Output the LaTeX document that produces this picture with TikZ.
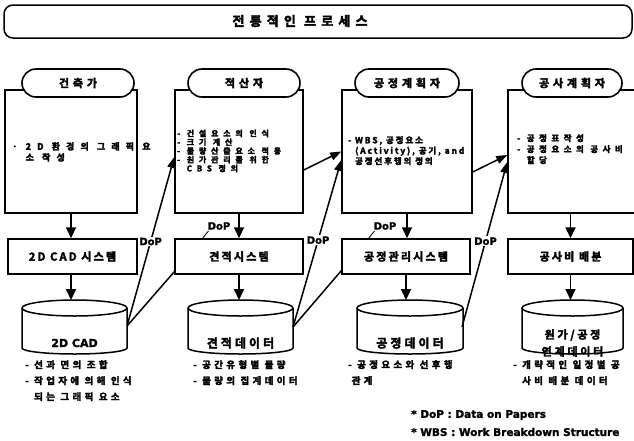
\documentclass[tikz,border=0pt]{standalone}
\usepackage{fontspec}
\usetikzlibrary{arrows.meta,calc}
\newfontfamily\kr[LetterSpace=25, FakeBold=3]{Noto Sans CJK KR Bold}
\newfontfamily\lat[FakeBold=1.5]{DejaVu Sans Bold}
\newcommand\dbcyl[3]{%
  \pgfmathsetmacro\cylrx{(#2-#1)/2}%
  \draw[line width=1.5pt, fill=white] (#1,308) -- (#1,348) arc[start angle=180,end angle=360,x radius=\cylrx pt,y radius=6pt] -- (#2,308);
  \draw[line width=1.5pt] ({(#1+#2)/2},308) ellipse[x radius=\cylrx pt, y radius=8pt];
  \coordinate (#3t) at ({(#1+#2)/2},300);
}
\begin{document}
\begin{tikzpicture}[x=1pt,y=-1pt,
  frame/.style={draw, line width=1.5pt, inner sep=0pt},
  pill/.style={draw, fill=white, line width=1.6pt, rounded corners=14pt, minimum height=28pt, inner sep=0pt,
     font=\kr\fontsize{11}{11}\selectfont\addfontfeature{LetterSpace=35}},
  sysbox/.style={frame, minimum height=35pt, font=\kr\fontsize{11}{11}\selectfont\addfontfeature{LetterSpace=20}},
  arr/.style={line width=1.8pt, -{Triangle[length=11pt,width=10pt]}},
  darr/.style={line width=1.5pt, -{Triangle[length=11pt,width=8pt]}},
  dline/.style={line width=1.5pt},
  txt/.style={anchor=north west, align=left, inner sep=0pt},
  dop/.style={fill=white, inner sep=1pt, font=\lat\fontsize{10}{10}\selectfont},
  cyltxt/.style={font=\kr\fontsize{12}{16}\selectfont, align=center, inner sep=0pt},
  note/.style={txt, font=\kr\fontsize{9.5}{16}\selectfont\addfontfeature{LetterSpace=35}},
]
\useasboundingbox (0,0) rectangle (634,440);
\fill[white] (0,0) rectangle (634,440);

% banner
\node[frame, rounded corners=9pt, minimum width=628pt, minimum height=33pt] (banner) at (318,21.5) {};
\node[font=\kr\fontsize{13}{13}\selectfont\addfontfeature{LetterSpace=40}] (title) at (300,21) {전통적인 프로세스};

% role boxes
\node[frame, minimum width=132pt, minimum height=123pt] (B1) at (71,151.5) {};
\node[frame, minimum width=128pt, minimum height=123pt] (B2) at (239,151.5) {};
\node[frame, minimum width=130pt, minimum height=123pt] (B3) at (407,151.5) {};
\node[frame, minimum width=152pt, minimum height=123pt] (B4) at (584,151.5) {};

\node[pill, minimum width=112pt] (P1) at (78,83) {건축가};
\node[pill, minimum width=112pt] (P2) at (244,83) {적산자};
\node[pill, minimum width=104pt] (P3) at (407,83) {공정계획자};
\node[pill, minimum width=100pt] (P4) at (572,83) {공사계획자};

\node[txt, font=\kr\fontsize{9}{11}\selectfont\addfontfeature{LetterSpace=68}] (T1) at (12,142) {· 2D 환경의 그래픽 요\\\phantom{· }소 작성};
\node[txt, font=\kr\fontsize{8}{8.75}\selectfont\addfontfeature{LetterSpace=60}] (T2) at (177,129.5) {- 건설요소의 인식\\- 크기 계산\\- 물량산출요소 적용\\- 원가관리를 위한\\\phantom{- }CBS 정의};
\node[txt, font=\kr\fontsize{8.5}{10.5}\selectfont\addfontfeature{LetterSpace=22}] (T3) at (348,136) {- WBS, 공정요소\\\phantom{- }(Activity), 공기, and\\\phantom{- }공정선후행의 정의};
\node[txt, font=\kr\fontsize{8.5}{11}\selectfont\addfontfeature{LetterSpace=53}] (T4) at (517,134) {- 공정표작성\\- 공정요소의 공사비\\\phantom{- }할당};

% system boxes
\node[sysbox, minimum width=129pt] (S1) at (72.5,256.5) {2D CAD 시스템};
\node[sysbox, minimum width=128pt] (S2) at (239,256.5) {견적시스템};
\node[sysbox, minimum width=128pt] (S3) at (406,256.5) {공정관리시스템};
\node[sysbox, minimum width=125pt] (S4) at (570.5,256.5) {공사비 배분};

% databases
\dbcyl{22}{127}{C1}
\dbcyl{188}{293}{C2}
\dbcyl{357}{463}{C3}
\dbcyl{522}{623}{C4}
\node[cyltxt, font=\lat\fontsize{11}{11}\selectfont] (C1) at (74.5,343) {2D CAD};
\node[cyltxt] (C2) at (240.5,343) {견적데이터};
\node[cyltxt] (C3) at (410,343) {공정데이터};
\node[cyltxt, font=\kr\fontsize{11}{17}\selectfont] (C4) at (572.5,343) {원가/공정\\연계데이터};
\coordinate (C1r) at (127,326);
\coordinate (C2r) at (293,327);
\coordinate (C3r) at (462,327);

% vertical arrows
\draw[arr] (B1.south) -- (B1.south |- S1.north);
\draw[arr] (B1.south |- S1.south) -- (B1.south |- C1t);
\draw[arr] (B2.south) -- (B2.south |- S2.north);
\draw[arr] (S2.south) -- (S2.south |- C2t);
\draw[arr] (B3.south) -- (B3.south |- S3.north);
\draw[arr] (S3.south) -- (S3.south |- C3t);
\draw[arr] (S4.north |- B4.south) -- (S4.north);
\draw[arr] (S4.south) -- (S4.south |- C4t);

\node[dop] (d2) at (219,226) {DoP};
\node[dop] (d3) at (385,226) {DoP};
\draw[line width=0.8pt] ([xshift=2pt]d2.south west) -- ([xshift=-4pt]d2.south west |- S2.north);
\draw[line width=0.8pt] ([xshift=2pt]d3.south west) -- ([xshift=-4pt]d3.south west |- S3.north);

% diagonal connectors
\draw[darr] (C1r) -- node[dop, pos=0.5] (l1) {DoP} ([yshift=-5.5pt]B2.west);
\draw[dline] (C1r) -- ([yshift=3pt]S2.south west);
\draw[darr] ([yshift=-18.5pt]B2.east) -- (B3.west);
\draw[darr] (C2r) -- node[dop, pos=0.52] (l2) {DoP} ([yshift=-8.5pt]B3.west);
\draw[dline] (C2r) -- ([yshift=4pt]S3.south west);
\draw[darr] ([yshift=-20.5pt]B3.east) -- ([yshift=-3.5pt]B4.west);
\draw[darr] (C3r) -- node[dop, pos=0.52] (l3) {DoP} ([yshift=-10.5pt]B4.west);

% notes under databases
\node[note] (N1) at (25,360) {- 선과 면의 조합\\- 작업자에 의해 인식\\\phantom{- }되는 그래픽 요소};
\node[note] (N2) at (193,360) {- 공간유형별 물량\\- 물량의 집계데이터};
\node[note] (N3) at (348,360) {- 공정요소와 선후행\\\phantom{-}관계};
\node[note] (N4) at (513,360) {- 개략적인 일정별 공\\\phantom{- }사비 배분 데이터};

% footnotes
\node[anchor=west, inner sep=0pt, font=\lat\fontsize{10.5}{10.5}\selectfont] (F1) at (411,415) {* DoP : Data on Papers};
\node[anchor=west, inner sep=0pt, font=\lat\fontsize{10.5}{10.5}\selectfont] (F2) at (411,432) {* WBS : Work Breakdown Structure};
\end{tikzpicture}
\end{document}
